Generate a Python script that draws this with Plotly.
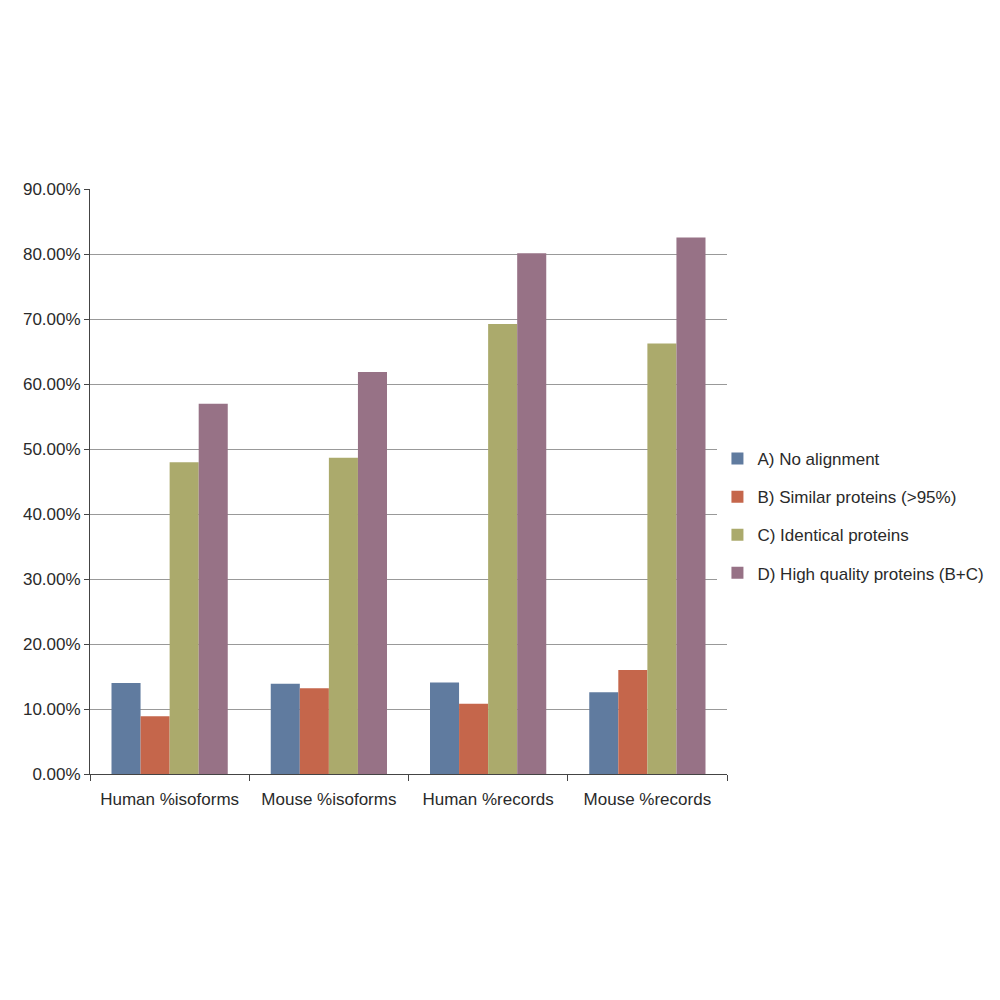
import plotly.graph_objects as go

categories = ["Human %isoforms", "Mouse %isoforms", "Human %records", "Mouse %records"]
series_names = ["A) No alignment", "B) Similar proteins (>95%)", "C) Identical proteins", "D) High quality proteins (B+C)"]
no_alignment = [14.0, 13.9, 14.1, 12.6]
similar = [8.9, 13.2, 10.8, 16.0]
identical = [48.0, 48.7, 69.3, 66.3]
high_quality = [57.0, 61.9, 80.2, 82.6]
colors = ["#607B9F", "#C5664B", "#ABAA6C", "#977286"]
y_tickvals = [0, 0.1, 0.2, 0.3, 0.4, 0.5, 0.6, 0.7, 0.8, 0.9]

fig = go.Figure()
for i, (name, vals) in enumerate(zip(series_names, [no_alignment, similar, identical, high_quality])):
    fig.add_trace(go.Bar(
        x=categories, y=[v / 100 for v in vals], name=name,
        marker=dict(color=colors[i], line=dict(width=0)),
        legendgroup=str(i),
    ))

fig.update_layout(
    width=1000, height=1000,
    paper_bgcolor="white", plot_bgcolor="white",
    margin=dict(l=82, r=281, t=181, b=234, autoexpand=False),
    barmode="group", bargap=0.27, bargroupgap=0,
    font=dict(family="Liberation Sans, Arial, sans-serif", size=17, color="#2a2a2a"),
    legend=dict(x=0.985, y=0.441, xanchor="left", yanchor="middle",
                tracegroupgap=13, font=dict(size=17), itemwidth=30),
    showlegend=True,
)
fig.update_yaxes(
    range=[0, 0.9008], tickvals=y_tickvals, tickformat=".2%",
    showgrid=True, gridcolor="#999999", gridwidth=1,
    showline=True, linecolor="#444444", linewidth=1,
    ticks="outside", ticklen=5, tickcolor="#444444",
    zeroline=False,
)
fig.update_xaxes(
    showline=True, linecolor="#444444", linewidth=1,
    ticks="outside", tickson="boundaries", ticklen=6, tickcolor="#444444",
    ticklabelstandoff=10,
    showgrid=False,
)

fig.write_html("out.html")
